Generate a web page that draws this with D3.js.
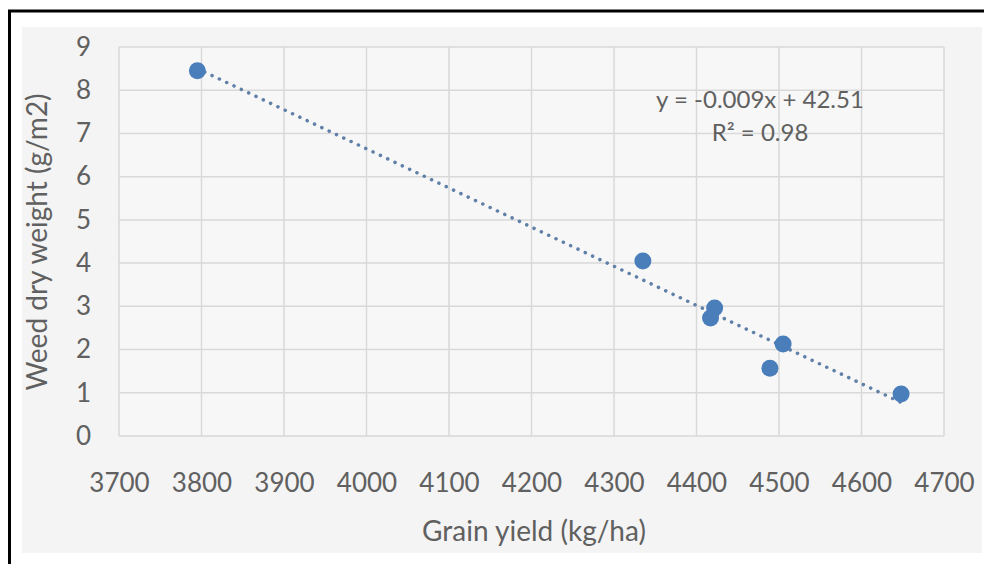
<!DOCTYPE html>
<html>
<head>
<meta charset="utf-8">
<script src="https://cdn.jsdelivr.net/npm/d3@7/dist/d3.min.js"></script>
<style>
  body { margin: 0; background: #fff; }
  text { font-family: Lato, "Open Sans", sans-serif; fill: #606060; }
</style>
</head>
<body>
<svg id="chart" width="984" height="564"></svg>
<script>
// grain yield (kg/ha) vs weed dry weight (g/m2)
var grainYield = [3795, 4335, 4422, 4417, 4505, 4489, 4648];
var weedWeight = [8.45, 4.05, 2.96, 2.73, 2.13, 1.57, 0.97];
var xTicks = [3700, 3800, 3900, 4000, 4100, 4200, 4300, 4400, 4500, 4600, 4700];
var yTicks = [0, 1, 2, 3, 4, 5, 6, 7, 8, 9];
var equationLines = ['y = -0.009x + 42.51', 'R\u00b2 = 0.98'];

var svg = d3.select('#chart');

// outer frame, cut off at right and bottom like the source
svg.append('rect')
  .attr('x', 9.5).attr('y', 11)
  .attr('width', 1000).attr('height', 600)
  .attr('fill', '#fff').attr('stroke', '#000').attr('stroke-width', 3);
svg.append('rect')
  .attr('x', 22).attr('y', 27)
  .attr('width', 960).attr('height', 526)
  .attr('fill', '#f4f4f4');

var x = d3.scaleLinear().domain([3700, 4700]).range([119, 944]);
var y = d3.scaleLinear().domain([0, 9]).range([436, 47]);

var plot = svg.append('g');
plot.append('rect')
  .attr('x', x(3700)).attr('y', y(9))
  .attr('width', x(4700) - x(3700)).attr('height', y(0) - y(9))
  .attr('fill', '#f7f7f7');

// gridlines
plot.selectAll('.vgrid').data(xTicks).enter().append('line')
  .attr('x1', d => x(d)).attr('x2', d => x(d))
  .attr('y1', y(0)).attr('y2', y(9))
  .attr('stroke', '#d9d9d9').attr('stroke-width', 1.5);
plot.selectAll('.hgrid').data(yTicks).enter().append('line')
  .attr('x1', x(3700)).attr('x2', x(4700))
  .attr('y1', d => y(d)).attr('y2', d => y(d))
  .attr('stroke', '#d9d9d9').attr('stroke-width', 1.5);

// axes (labels only)
var xAxis = svg.append('g')
  .attr('transform', 'translate(0,' + y(0) + ')')
  .call(d3.axisBottom(x).tickValues(xTicks).tickSize(0).tickPadding(38).tickFormat(d3.format('d')));
var yAxis = svg.append('g')
  .attr('transform', 'translate(' + (x(3700) - 28) + ',0)')
  .call(d3.axisLeft(y).tickValues(yTicks).tickSize(0).tickPadding(0));
[xAxis, yAxis].forEach(function (a) {
  a.select('.domain').remove();
  a.selectAll('text').style('font-size', '26px').attr('fill', '#606060');
});

// least squares trendline over the data range
var mx = d3.mean(grainYield), my = d3.mean(weedWeight);
var sxy = d3.sum(grainYield, (v, i) => (v - mx) * (weedWeight[i] - my));
var sxx = d3.sum(grainYield, v => (v - mx) * (v - mx));
var slope = sxy / sxx, icpt = my - slope * mx;
var x0 = d3.min(grainYield), x1 = d3.max(grainYield);
plot.append('line')
  .attr('x1', x(x0)).attr('y1', y(slope * x0 + icpt))
  .attr('x2', x(x1)).attr('y2', y(slope * x1 + icpt))
  .attr('stroke', '#6080a8').attr('stroke-width', 3.5)
  .attr('stroke-linecap', 'round').attr('stroke-dasharray', '0.1 8');

plot.selectAll('.pt').data(grainYield).enter().append('circle')
  .attr('cx', d => x(d))
  .attr('cy', (d, i) => y(weedWeight[i]))
  .attr('r', 8.5)
  .attr('fill', '#4a7ebb');

svg.selectAll('.eq').data(equationLines).enter().append('text')
  .attr('x', 760).attr('y', (d, i) => 108 + i * 33)
  .attr('text-anchor', 'middle')
  .style('font-size', '24px')
  .text(d => d);

svg.append('text')
  .attr('x', 534).attr('y', 541)
  .attr('text-anchor', 'middle')
  .style('font-size', '28px')
  .text('Grain yield (kg/ha)');

svg.append('text')
  .attr('transform', 'translate(47,242) rotate(-90)')
  .attr('text-anchor', 'middle')
  .style('font-size', '28px')
  .text('Weed dry weight (g/m2)');
</script>
</body>
</html>
